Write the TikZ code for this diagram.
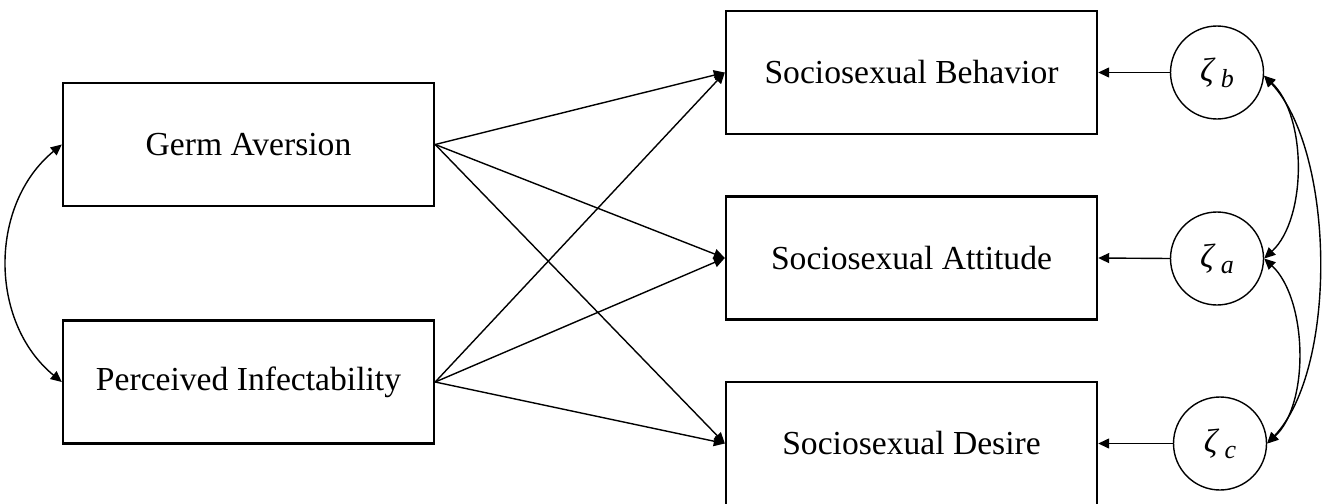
\documentclass[tikz,border=0pt]{standalone}
\usepackage{fontspec}
\setmainfont{Liberation Serif}
\usetikzlibrary{arrows.meta}
\tikzset{
  varbox/.style={draw, line width=1.2pt, minimum width=185.5pt, minimum height=61.5pt, inner sep=0pt, font=\fontsize{16.8}{20}\selectfont},
  errcirc/.style={draw, circle, line width=0.7pt, minimum size=46.5pt, inner sep=0pt, font=\fontsize{16.8}{20}\selectfont},
  path/.style={line width=0.7pt, -{Triangle[length=5.5pt,width=5pt]}},
  cov/.style={line width=0.7pt, {Triangle[length=5.5pt,width=5pt]}-{Triangle[length=5.5pt,width=5pt]}}
}
\newcommand{\zsub}[1]{{\itshape ζ\hspace{3.5pt}\raisebox{-0.4ex}{\fontsize{13}{15}\selectfont #1}}}
\begin{document}
\begin{tikzpicture}[x=0.5pt,y=-0.5pt]
\useasboundingbox (0,0) rectangle (1326,503);
\clip (0,0) rectangle (1326,503);
\fill[white] (0,0) rectangle (1326,503);
\node[varbox] (ga) at (248.5,144.5) {Germ Aversion};
\node[varbox] (pi) at (248.5,382) {Perceived Infectability};
\node[varbox] (sb) at (911.5,72.5) {Sociosexual Behavior};
\node[varbox] (sa) at (911.5,258) {Sociosexual Attitude};
\node[varbox] (sd) at (911.5,443.5) {Sociosexual Desire};
\node[errcirc] (zb) at (1217,72.5) {\zsub{b}};
\node[errcirc] (za) at (1217,258.5) {\zsub{a}};
\node[errcirc] (zc) at (1220,443.5) {\zsub{c}};
\foreach \s in {ga,pi}{
  \foreach \t in {sb,sa,sd}{
    \draw[path] (\s.east) -- (\t.west);
  }
}
\draw[path] (zb.west) -- (sb.east);
\draw[path] (za.west) -- (sa.east);
\draw[path] (zc.west) -- (sd.east);
\draw[cov] (ga.west) .. controls +(-73,60) and +(-73,-60) .. (pi.west);
\draw[cov] (zb.-4) .. controls +(43,40) and +(43,-40) .. (za.east);
\draw[cov] (za.east) .. controls +(43,40) and +(43,-40) .. (zc.east);
\draw[cov] (zb.-4) .. controls +(71,75) and +(71,-75) .. (zc.east);
\end{tikzpicture}
\end{document}
